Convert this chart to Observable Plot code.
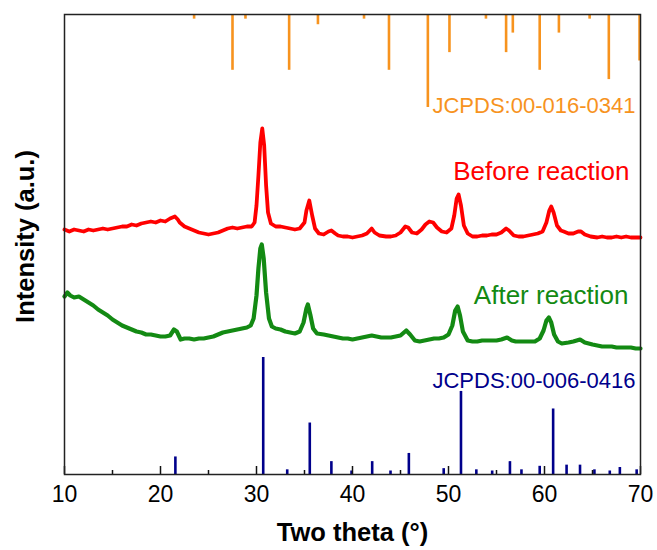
<!DOCTYPE html>
<html>
<head>
<meta charset="utf-8">
<script src="https://cdn.jsdelivr.net/npm/d3@7"></script>
<script src="https://cdn.jsdelivr.net/npm/@observablehq/plot@0.6"></script>
<style>
  html, body { margin: 0; padding: 0; background: #fff; }
</style>
</head>
<body>
<div id="chart"></div>
<script>
// ---- Data ----
const xTicks = [10, 20, 30, 40, 50, 60, 70];
const minorTicks = [15, 25, 35, 45, 55, 65];

// JCPDS:00-016-0341 reference lines (relative intensity, %)
const orangeTheta = [23.5, 27.5, 28.85, 33.4, 36.4, 41.2, 43.8, 47.85, 50.1, 53.9, 56.0, 56.7, 59.5, 61.5, 64.7, 66.7, 69.9];
const orangeInt   = [5, 60, 5, 60, 11, 5, 60, 100, 41, 5, 41, 20, 60, 20, 5, 70, 50];

// JCPDS:00-006-0416 reference lines (relative intensity, %)
const blueTheta = [21.55, 30.7, 33.2, 35.55, 37.8, 39.9, 42.05, 43.96, 45.87, 49.5, 51.3, 52.9, 54.55, 56.4, 57.6, 59.5, 60.9, 62.3, 63.7, 65.2, 66.8, 67.85, 69.6];
const blueInt   = [15, 100, 4, 44, 11, 3, 11, 3, 18, 5, 71, 4, 3, 11, 4, 7, 56, 8, 8, 4, 3, 6, 4];

// Before reaction (offset intensity, a.u.)
const redTheta = [10.0,10.5,11,11.5,12,12.5,13,13.5,14,14.5,15,15.5,16,16.5,17,17.5,18,18.5,19,19.5,20,20.5,21,21.5,21.8,22,22.5,23,23.5,24,24.5,25,25.5,26,26.5,27,27.5,28,28.5,29,29.5,29.8,30.0,30.2,30.4,30.6,30.8,31.0,31.2,31.5,32,32.5,33,33.5,34,34.5,35.0,35.2,35.5,35.8,36.1,36.5,37,37.5,37.8,38.2,38.5,39,39.5,40,40.5,41,41.5,42.0,42.3,42.8,43.5,44,44.5,45,45.5,45.8,46.2,46.7,47.2,47.6,48.0,48.4,48.8,49.3,49.8,50.3,50.6,50.85,51.05,51.3,51.6,52.0,52.5,53,53.5,54,54.5,55,55.5,56.0,56.3,56.8,57.3,57.8,58.3,58.8,59.3,59.8,60.2,60.5,60.7,60.95,61.3,61.7,62,62.5,63,63.5,63.8,64.2,64.8,65.5,66,66.5,67,67.5,68,68.5,69,69.5,70];
const redInt = [245,243,245,244,243,245,244,245,246,245,246,247,248,248,250,249,251,252,253,252,254,253,256,258,255,252,248,246,244,242,241,240,241,242,244,246,247,246,247,248,248,252,269,299,332,346,329,289,262,251,248,248,247,246,245,246,252,264,274,259,246,241,240,243,244,241,239,238,238,237,238,239,241,246,242,239,238,238,239,242,248,247,242,241,245,250,253,252,247,243,242,246,259,276,280,269,249,241,238,238,239,239,240,240,242,246,244,239,238,238,239,240,241,243,252,264,268,262,249,244,243,241,241,243,243,240,238,237,238,237,237,238,237,238,237,237,237];

// After reaction (offset intensity, a.u.)
const greenTheta = [10.0,10.3,10.6,11,11.5,12,12.5,13,13.5,14,14.5,15,15.5,16,16.5,17,17.5,18,18.5,19,19.5,20,20.5,21.0,21.4,21.7,22.1,22.5,23,23.5,24,24.5,25,25.5,26,26.5,27,27.5,28,28.5,29,29.4,29.7,30.0,30.2,30.4,30.55,30.75,31.0,31.3,31.6,32,32.5,33,33.5,34,34.5,34.9,35.2,35.35,35.6,35.9,36.3,37,37.5,38,38.5,39,39.5,40,40.5,41,41.5,42,42.5,43,43.5,44,44.5,45,45.6,46.0,46.5,47,47.5,48,48.5,49,49.5,50.0,50.4,50.7,50.95,51.2,51.5,52,52.5,53,53.5,54,54.5,55,55.5,56.1,56.6,57,57.5,58,58.5,59,59.5,59.9,60.2,60.45,60.7,61.0,61.4,61.8,62.5,63,63.7,64.2,65,65.5,66,66.5,67,67.5,68,68.5,69,69.5,70];
const greenInt = [178,182,179,177,178,175,172,169,165,162,159,155,152,149,147,145,143,142,140,140,139,138,138,139,145,143,135,136,136,135,136,136,137,138,140,142,143,144,145,146,147,149,156,179,206,226,230,216,182,156,148,146,145,143,142,141,143,152,166,170,160,146,141,140,139,138,137,136,136,135,136,137,138,139,138,137,137,137,138,139,144,140,134,133,134,135,136,136,137,140,149,164,168,159,143,134,133,133,134,134,134,134,135,137,134,133,133,133,133,133,136,144,154,157,152,140,133,131,132,133,135,132,130,129,128,128,128,127,127,127,127,126,126];

const labels = ["JCPDS:00-016-0341", "Before reaction", "After reaction", "JCPDS:00-006-0416"];

// ---- Tables ----
const TOP = 460;
const orange = orangeTheta.map((t, i) => ({t, v: orangeInt[i]}));
const blue = blueTheta.map((t, i) => ({t, v: blueInt[i]}));
const red = redTheta.map((t, i) => ({t, v: redInt[i]}));
const green = greenTheta.map((t, i) => ({t, v: greenInt[i]}));

const ORANGE = "#f7931e", RED = "#ff0000", GREEN = "#138a13", NAVY = "#00008b";

const chart = Plot.plot({
  width: 657,
  height: 550,
  marginLeft: 64,
  marginRight: 17,
  marginTop: 14,
  marginBottom: 76,
  x: {domain: [10, 70]},
  y: {domain: [0, TOP], axis: null},
  style: {fontFamily: "'Liberation Sans', Arial, sans-serif", background: "white", color: "#000"},
  marks: [
    Plot.ruleX(orange, {x: "t", y1: TOP, y2: d => TOP - d.v * 0.93, stroke: ORANGE, strokeWidth: 2.6}),
    Plot.ruleX(blue, {x: "t", y1: 0, y2: d => d.v * 1.17, stroke: NAVY, strokeWidth: 2.6}),
    Plot.ruleX(xTicks, {x: d => d, y1: 0, y2: 8, stroke: "#111", strokeWidth: 1.5}),
    Plot.ruleX(minorTicks, {x: d => d, y1: 0, y2: 4, stroke: "#111", strokeWidth: 1.5}),
    Plot.line(red, {x: "t", y: "v", stroke: RED, strokeWidth: 3.8, strokeLinejoin: "round"}),
    Plot.line(green, {x: "t", y: "v", stroke: GREEN, strokeWidth: 4.2, strokeLinejoin: "round"}),
    Plot.frame({stroke: "#222", strokeWidth: 1.5}),
    Plot.axisX(xTicks, {tickSize: 0, tickPadding: 11, fontSize: 23, label: null, tickFormat: d => d}),
    Plot.text([labels[0]], {frameAnchor: "top-right", dx: -5, dy: 83, text: d => d, fill: ORANGE, fontSize: 22, textAnchor: "end"}),
    Plot.text([labels[1]], {frameAnchor: "top-right", dx: -11, dy: 147, text: d => d, fill: RED, fontSize: 26, textAnchor: "end"}),
    Plot.text([labels[2]], {frameAnchor: "top-right", dx: -12, dy: 271, text: d => d, fill: GREEN, fontSize: 26, textAnchor: "end"}),
    Plot.text([labels[3]], {frameAnchor: "top-right", dx: -5, dy: 358, text: d => d, fill: NAVY, fontSize: 22, textAnchor: "end"}),
    Plot.text(["Two theta (°)"], {frameAnchor: "bottom", dy: 66, text: d => d, fontSize: 25.5, fontWeight: "bold", fill: "#000"}),
    Plot.text(["Intensity (a.u.)"], {frameAnchor: "left", rotate: -90, textAnchor: "middle", dx: -39, dy: -8, text: d => d, fontSize: 25.5, fontWeight: "bold", fill: "#000"})
  ]
});
document.getElementById("chart").appendChild(chart);
</script>
</body>
</html>
